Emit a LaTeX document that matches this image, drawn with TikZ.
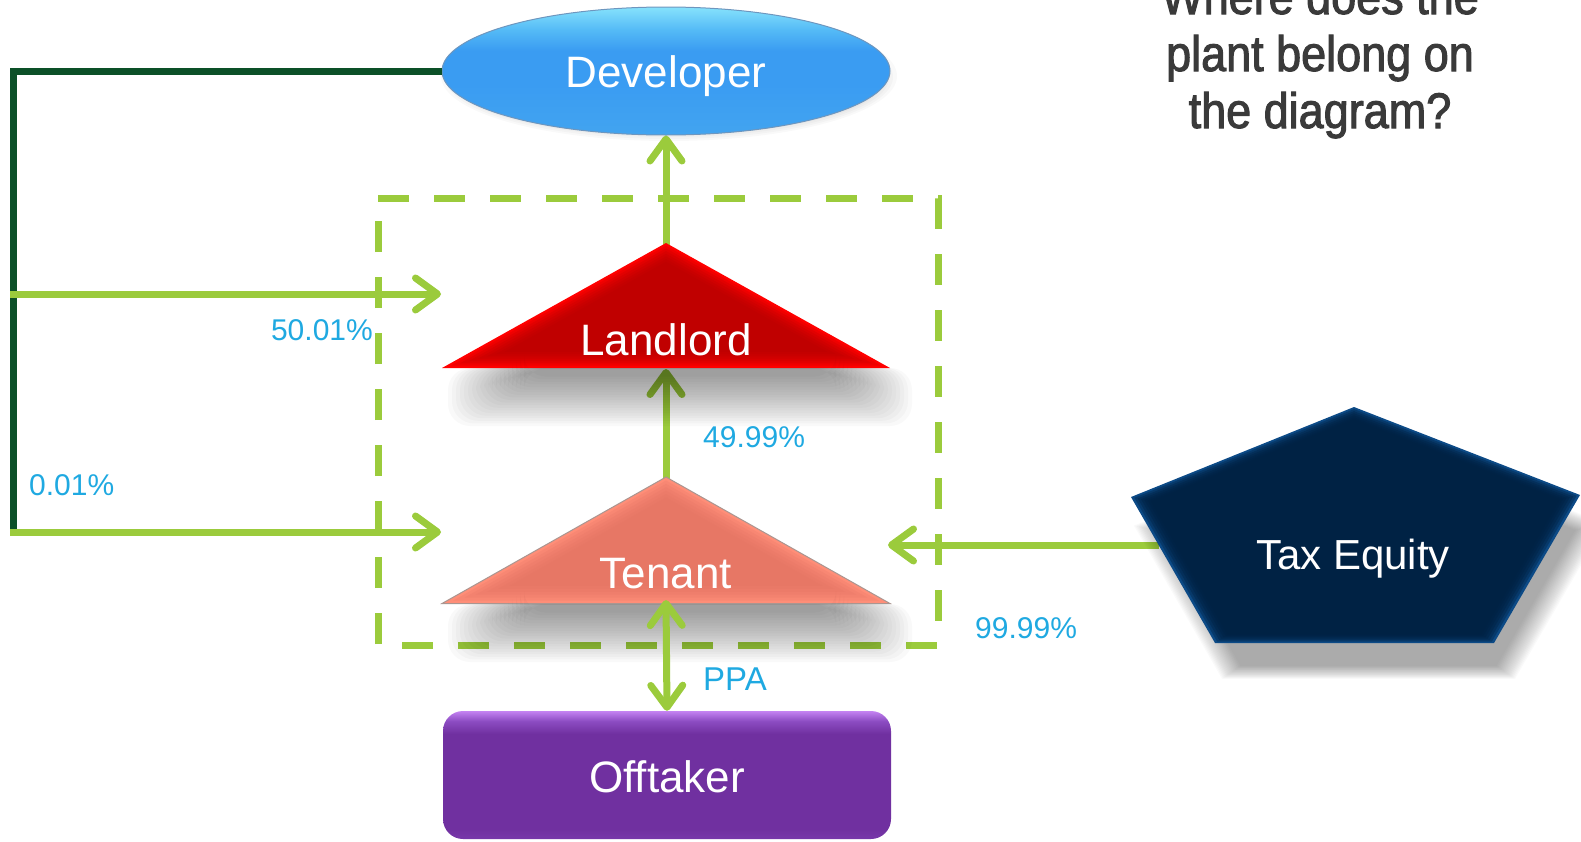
\documentclass[tikz,border=0pt]{standalone}
\usepackage{fontspec}
\setmainfont{Liberation Sans}
\newfontfamily\headfont[FakeStretch=0.9,FakeBold=2]{Liberation Sans}
\usetikzlibrary{arrows.meta,shapes.geometric}

% palette
\definecolor{lime}{RGB}{155,203,60}
\definecolor{pine}{RGB}{12,80,40}
\definecolor{pct}{RGB}{31,169,225}
\definecolor{ink}{RGB}{58,58,58}
\definecolor{devT}{RGB}{134,226,252}
\definecolor{devU}{RGB}{84,186,246}
\definecolor{devM}{RGB}{58,156,242}
\definecolor{devB}{RGB}{66,164,240}
\definecolor{devEdge}{RGB}{110,150,190}
\definecolor{redEdge}{RGB}{255,0,0}
\definecolor{redCore}{RGB}{176,0,0}
\definecolor{salEdge}{RGB}{255,142,120}
\definecolor{salCore}{RGB}{226,114,98}
\definecolor{salLine}{RGB}{170,150,145}
\definecolor{purT}{RGB}{196,131,242}
\definecolor{purU}{RGB}{140,76,194}
\definecolor{purM}{RGB}{112,48,160}
\definecolor{purB}{RGB}{120,56,170}
\definecolor{navyEdge}{RGB}{12,74,134}
\definecolor{navyCore}{RGB}{0,33,66}

% glossy fills for the ellipse and the rounded box
\pgfdeclareverticalshading{devshade}{100bp}{color(0bp)=(devB); color(25bp)=(devB); color(45bp)=(devM); color(58bp)=(devM); color(66bp)=(devU); color(75bp)=(devT); color(100bp)=(devT)}
\pgfdeclareverticalshading{offshade}{100bp}{color(0bp)=(purB); color(25bp)=(purB); color(29bp)=(purM); color(66bp)=(purM); color(71bp)=(purU); color(75bp)=(purT); color(100bp)=(purT)}

\begin{document}
\begin{tikzpicture}[x=1pt,y=-1pt,
  flow/.style={draw=lime, line width=7pt},
  tip/.style={-{Straight Barb[length=22pt,width=32pt,round]}},
  twotip/.style={{Straight Barb[length=22pt,width=32pt,round]}-{Straight Barb[length=22pt,width=32pt,round]}},
  pctlabel/.style={text=pct, font=\fontsize{30}{36}\selectfont, inner sep=0pt},
  namelabel/.style={text=white, font=\fontsize{44}{52}\selectfont, inner sep=0pt},
]
\useasboundingbox (0,0) rectangle (1581,841);

% ---------- Developer ----------
\foreach \k in {0,...,5}
  \fill[black,opacity=0.025] (669,{76+\k}) ellipse [x radius={228-\k*4}, y radius={65-\k*3}];
\node[ellipse, draw=devEdge, line width=1pt, shading=devshade,
      minimum width=448, minimum height=128, inner sep=0pt,
      namelabel, text height=32pt, text depth=0pt] (dev) at (666,71) {Developer};

% ---------- anchor points ----------
\coordinate (trunkTop) at (13,71);
\coordinate (trunkBot) at (13,535);
\coordinate (split50) at (10,294);
\coordinate (split001) at (10,532);
\coordinate (landIn) at (441,294);
\coordinate (tenIn) at (441,532);
\coordinate (landApex) at (666,245);
\coordinate (landBase) at (666,369);
\coordinate (tenApex) at (666,479);
\coordinate (tenBase) at (666,600);
\coordinate (taxW) at (1159,545);
\coordinate (tenE) at (888,545);

% ---------- partnership boundary ----------
\draw[lime, line width=7pt, dash pattern=on 31pt off 25pt]
  (378,198) -- (938,198) -- (938,645) -- (378,645) -- cycle;

% ---------- Developer ownership lines ----------
\draw[pine, line width=7pt] (dev.west) -- (trunkTop) -- (trunkBot);
\draw[flow, tip] (split50) -- (landIn);
\draw[flow, tip] (split001) -- (tenIn);
\draw[flow, tip] (landApex) -- (dev.south);

% ---------- Tax Equity ----------
\draw[flow, tip] (taxW) -- (tenE);
\foreach \k in {0,...,19}
  \fill[black,opacity=0.018,shift={(1368,576)},scale={1.05-\k*0.007}]
    (0,-138) -- (226,-50) -- (140,98) -- (-139,98) -- (-223,-48) -- cycle;
\fill[navyEdge, shift={(1354,545)}]
  (0,-138) -- (226,-50) -- (140,98) -- (-139,98) -- (-223,-48) -- cycle;
\foreach \s in {0.985,0.97,0.955,0.94,0.925,0.91}
  \fill[navyCore,opacity=0.4,shift={(1354,545)},scale=\s]
    (0,-138) -- (226,-50) -- (140,98) -- (-139,98) -- (-223,-48) -- cycle;
\node[namelabel, font=\fontsize{42}{50}\selectfont, anchor=base] (tax) at (1353,569) {Tax Equity};

% ---------- Landlord ----------
\fill[redEdge, shift={(666,310)}] (0,-67) -- (224,58) -- (-224,58) -- cycle;
\foreach \s in {0.96,0.92,0.88,0.84,0.80,0.76,0.72}
  \fill[redCore,opacity=0.2,shift={(666,310)},scale=\s] (0,-67) -- (224,58) -- (-224,58) -- cycle;
\node[namelabel, anchor=base] (land) at (666,355) {Landlord};

% Tenant to Landlord, under the Landlord's shadow
\draw[flow, tip] (tenApex) -- (landBase);
\foreach \k in {0,...,19}
  \fill[black,opacity=0.022,rounded corners=22pt] ({448+\k*4},368) rectangle ({912-\k*4},{426-\k*2.6});

% ---------- Tenant ----------
\fill[salEdge, shift={(666,545)}] (0,-68) -- (224,58.5) -- (-224,58.5) -- cycle;
\foreach \s in {0.95,0.90,0.85,0.80,0.75,0.70}
  \fill[salCore,opacity=0.22,shift={(666,545)},scale=\s] (0,-68) -- (224,58.5) -- (-224,58.5) -- cycle;
\draw[salLine, line width=1pt, shift={(666,545)}] (0,-68) -- (224,58.5) -- (-224,58.5) -- cycle;
\node[namelabel, anchor=base] (ten) at (666,588) {Tenant};
\foreach \k in {0,...,19}
  \fill[black,opacity=0.022,rounded corners=22pt] ({448+\k*4},604) rectangle ({912-\k*4},{662-\k*2.6});

% ---------- Offtaker ----------
\node[rectangle, rounded corners=20pt, shading=offshade,
      minimum width=448, minimum height=128, inner sep=0pt,
      namelabel, text height=34pt, text depth=0pt] (off) at (667,775) {Offtaker};
\draw[flow, twotip] (tenBase) -- (off.north);

% ---------- percentages ----------
\node[pctlabel, anchor=base east] (p50) at (373,340) {50.01\%};
\node[pctlabel, anchor=base west] (p001) at (29,495) {0.01\%};
\node[pctlabel, anchor=base west] (p4999) at (703,447) {49.99\%};
\node[pctlabel, anchor=base west] (p9999) at (975,638) {99.99\%};
\node[pctlabel, font=\fontsize{33}{40}\selectfont, anchor=base west] (ppa) at (703,690) {PPA};

% ---------- question (last line's baseline is the anchor) ----------
\node[text=ink, font=\headfont\fontsize{50}{57}\selectfont, align=center, anchor=base, inner sep=0pt]
  (ask) at (1320,128) {Where does the\\plant belong on\\the diagram?};
\end{tikzpicture}
\end{document}
